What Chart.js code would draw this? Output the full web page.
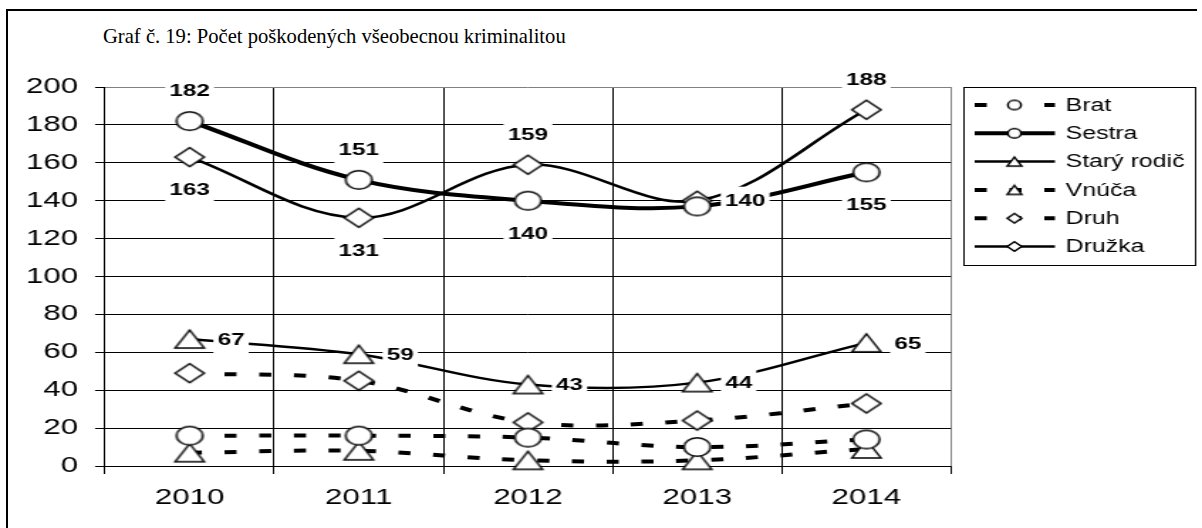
<!DOCTYPE html>
<html>
<head>
<meta charset="utf-8">
<script src="https://cdn.jsdelivr.net/npm/chart.js@4/dist/chart.umd.min.js"></script>
<style>
  html, body { margin: 0; padding: 0; background: #fff; overflow: hidden; }
  #frame { position: absolute; left: 6px; top: 9px; width: 1189px; height: 600px;
           border-left: 2px solid #000; border-top: 2px solid #000; }
  #title { position: absolute; left: 103px; top: 26px; white-space: nowrap;
           font: 20.6px/20.6px "Liberation Serif", "Times New Roman", serif; color: #000; }
  /* the original picture is stretched sideways, so the canvas is too */
  #wrap { position: absolute; left: 0; top: 0; width: 846px; height: 528px;
          transform: scaleX(1.4208); transform-origin: 0 0; }
</style>
</head>
<body>
<div id="frame"></div>
<div id="title">Graf č. 19: Počet poškodených všeobecnou kriminalitou</div>
<div id="wrap"><canvas id="chart" width="846" height="528"></canvas></div>
<script>
// --- data
const years      = ['2010', '2011', '2012', '2013', '2014'];
const brat       = [16, 16, 15, 10, 14];
const sestra     = [182, 151, 140, 137, 155];
const staryRodic = [67, 59, 43, 44, 65];
const vnuca      = [7, 8, 3, 3, 9];
const druh       = [49, 45, 23, 24, 33];
const druzka     = [163, 131, 159, 140, 188];
const yMin = 0, yMax = 200, yStep = 20;

// where the value labels sit (a = above, b = below, r = right)
const sestraLabels = ['a', 'a', 'b', null, 'b'];
const druzkaLabels = ['b', 'b', 'a', 'r', 'a'];
const staryLabels  = ['r', 'r', 'r', 'r', 'r'];

const FONT = '"Liberation Sans", Arial, sans-serif';
Chart.defaults.font.family = FONT;
Chart.defaults.color = '#000';

// --- marker images (white fill, black outline), k = size factor
function makeMarker(kind, k) {
    const c = document.createElement('canvas');
    c.width = Math.ceil(24 * k) + 2; c.height = Math.ceil(22 * k) + 2;
    const g = c.getContext('2d');
    const cx = c.width / 2, cy = c.height / 2;
    g.beginPath();
    if (kind === 'circle') {
        g.arc(cx, cy, 9.3 * k, 0, Math.PI * 2);
    } else if (kind === 'triangle') {
        g.moveTo(cx, cy - 9 * k);
        g.lineTo(cx + 10.2 * k, cy + 9 * k);
        g.lineTo(cx - 10.2 * k, cy + 9 * k);
        g.closePath();
    } else {
        g.moveTo(cx, cy - 9.5 * k);
        g.lineTo(cx + 10.2 * k, cy);
        g.lineTo(cx, cy + 9.5 * k);
        g.lineTo(cx - 10.2 * k, cy);
        g.closePath();
    }
    g.fillStyle = '#fff';
    g.fill();
    g.lineWidth = 1.5;
    g.strokeStyle = '#000';
    g.stroke();
    return c;
}
const marks = {};
['circle', 'triangle', 'diamond'].forEach(m => {
    marks[m] = makeMarker(m, 1);
    marks[m + 'Small'] = makeMarker(m, 0.5);
});

const DASH = [8.5, 16];

function series(label, data, mark, width, dashed, extra) {
    return Object.assign({
        label: label,
        data: data,
        borderColor: '#000',
        borderWidth: width,
        borderDash: dashed ? DASH : [],
        borderCapStyle: 'butt',
        tension: 0.35,
        pointStyle: marks[mark],
        legendMark: marks[mark + 'Small'],
        pointRadius: 10,
        pointHoverRadius: 10,
        fill: false,
        clip: false
    }, extra || {});
}

// --- value labels with white boxes
const valueLabels = {
    id: 'valueLabels',
    afterDatasetsDraw(chart) {
        const ctx = chart.ctx;
        ctx.save();
        ctx.font = 'bold 17px ' + FONT;
        ctx.textAlign = 'center';
        ctx.textBaseline = 'middle';
        chart.data.datasets.forEach((ds, i) => {
            if (!ds.labelPos) return;
            const meta = chart.getDatasetMeta(i);
            meta.data.forEach((pt, j) => {
                const pos = ds.labelPos[j];
                if (!pos) return;
                const txt = String(ds.data[j]);
                let x = pt.x, y = pt.y;
                if (pos === 'a') y -= 30.5;
                else if (pos === 'b') y += 32.5;
                else x += (ds.rightGaps ? ds.rightGaps[j] : 29.2);
                const w = ctx.measureText(txt).width + 6;
                ctx.fillStyle = '#fff';
                ctx.fillRect(x - w / 2, y - 14, w, 28);
                ctx.fillStyle = '#000';
                ctx.fillText(txt, x, y + 1);
            });
        });
        ctx.restore();
    }
};

// --- legend box on the right (line sample + marker + name)
const sideLegend = {
    id: 'sideLegend',
    afterDraw(chart) {
        const ctx = chart.ctx;
        ctx.save();
        ctx.strokeStyle = '#000';
        ctx.lineWidth = 1;
        ctx.strokeRect(678.5, 87.5, 163, 178);
        ctx.font = '17.5px ' + FONT;
        ctx.textAlign = 'left';
        ctx.textBaseline = 'middle';
        chart.data.datasets.forEach((ds, i) => {
            const y = 105 + i * 28.3;
            ctx.beginPath();
            ctx.setLineDash(ds.borderDash);
            ctx.lineWidth = ds.borderWidth;
            ctx.moveTo(686, y);
            ctx.lineTo(742.5, y);
            ctx.stroke();
            ctx.setLineDash([]);
            const img = ds.legendMark;
            ctx.drawImage(img, 714 - img.width / 2, y - img.height / 2);
            ctx.fillStyle = '#000';
            ctx.fillText(ds.label, 750, y + 1);
        });
        ctx.restore();
    }
};

new Chart(document.getElementById('chart'), {
    type: 'line',
    data: {
        labels: years,
        datasets: [
            series('Brat', brat, 'circle', 4, true),
            series('Sestra', sestra, 'circle', 4, false, { labelPos: sestraLabels }),
            series('Starý rodič', staryRodic, 'triangle', 2.5, false, { labelPos: staryLabels }),
            series('Vnúča', vnuca, 'triangle', 4, true),
            series('Druh', druh, 'diamond', 4, true),
            series('Družka', druzka, 'diamond', 2.5, false,
                   { labelPos: druzkaLabels, rightGaps: [0, 0, 0, 33.8, 0] })
        ]
    },
    options: {
        responsive: false,
        devicePixelRatio: 1,
        animation: false,
        events: [],
        layout: { padding: { top: 87, right: 176.7, left: 0, bottom: 0 } },
        plugins: {
            legend: { display: false },
            title: { display: false },
            tooltip: { enabled: false }
        },
        scales: {
            x: {
                offset: true,
                grid: {
                    offset: true,
                    tickLength: 8,
                    color: c => (c.tick ? '#000' : '#808080'),
                    tickColor: '#000',
                    lineWidth: 1
                },
                border: { color: '#000', width: 1 },
                ticks: { font: { size: 22 }, padding: 11, maxRotation: 0, autoSkip: false },
                afterFit: s => { s.height = 62; }
            },
            y: {
                min: yMin,
                max: yMax,
                grid: {
                    tickLength: 7,
                    color: c => (c.tick && c.tick.value === yMax ? '#808080' : '#000'),
                    tickColor: '#000',
                    lineWidth: 1
                },
                border: { color: '#000', width: 1 },
                ticks: { stepSize: yStep, font: { size: 22 }, padding: 12 },
                afterFit: s => { s.width = 73.9; }
            }
        }
    },
    plugins: [valueLabels, sideLegend]
});
</script>
</body>
</html>
